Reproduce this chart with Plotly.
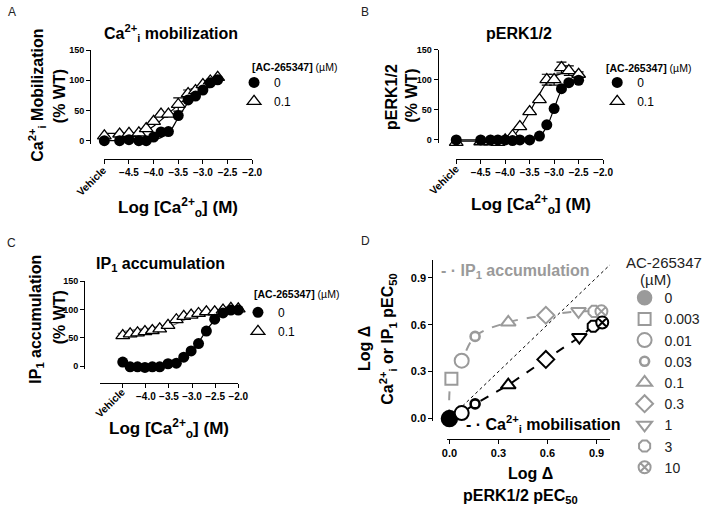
import plotly.graph_objects as go

W, H = 709, 516
FONT = "Liberation Sans"
GRAY = "#9a9a9a"


def fx(p):
    return p / W


def fy(p):
    return 1 - p / H


# ---------------- Data ----------------
# Panel A: Ca2+i mobilization (% WT) vs Log [Ca2+o] (M); vehicle plotted at -5.0
a_log_ca = [-5.0, -4.69, -4.5, -4.3, -4.15, -4.0, -3.85, -3.7, -3.5, -3.3, -3.15, -3.0, -2.85, -2.7]
a_ctrl = [0, 0, 1.5, 0, 0, 6, 14.5, 15, 41.5, 67.5, 74, 84, 96, 101]
a_ac = [8, 11, 12, 13, 20, 32, 44, 44, 60, 78, 83, 93, 99, 105]
a_ac_err = [None, None, None, None, None, None, None, None, 11, 6, 3, None, None, None]
a_ctrl_fit = [0, 0, 0, 0, 0.5, 2, 5, 12, 38, 63, 76, 86, 93, 97]
a_ac_fit = [12, 12, 12.5, 13.5, 17, 24, 34, 45, 59, 73, 82, 90, 96, 100]

# Panel B: pERK1/2 (% WT)
b_log_ca = [-5.0, -4.5, -4.3, -4.15, -4.0, -3.85, -3.7, -3.5, -3.3, -3.15, -3.0, -2.85, -2.7, -2.5]
b_ctrl = [0, 0, 0, 0, 0, -1, 0, 0, 6.5, 25, 52, 85, 95, 99]
b_ac = [-4, -3, -3, -4, 0, 7, 22, 47, 67, 100, 100, 120, 115, 109]
b_ac_err = [None, None, None, None, None, None, None, None, None, 9, 9, 9, 8, 4]
b_ctrl_fit = [0, 0, 0, 0, 0, 0, 0.3, 1, 6, 22, 52, 82, 94, 99]
b_ac_fit = [-2, -2, -2, -2, -0.5, 5, 20, 46, 76, 95, 105, 110, 112, 112]

# Panel C: IP1 accumulation (% WT); vehicle plotted at -4.5
c_log_ca = [-4.5, -4.34, -4.18, -4.02, -3.86, -3.7, -3.52, -3.34, -3.18, -3.02, -2.86, -2.69, -2.51, -2.33, -2.16, -2.0]
c_ctrl = [7.5, -1, -1, -2, -1, -1, 4.5, 5.5, 16, 27, 40, 62, 83, 94, 99, 99]
c_ac = [54, 57, 59, 61, 63, 66, 72, 82, 88, 90, 93, 96, 96, 99, 102, 101]
c_ac_err = [4, 5, 5, 5, 4, 3, None, None, None, None, None, None, None, None, None, None]
c_ctrl_fit = [0, 0, 0, 0, 0, 0.5, 1.5, 5, 12, 25, 42, 63, 81, 92, 97, 99]
c_ac_fit = [57, 58, 59, 60, 62, 65, 69, 75, 81, 86, 90, 93, 95, 97, 98, 99]

# Panel D: Log delta pEC50 (pERK1/2 on x; IP1 or Ca2+i on y) per [AC-265347] (uM)
ip1_conc = ["0", "0.003", "0.01", "0.03", "0.1", "0.3", "1", "3", "10"]
ip1_dx = [0.0, 0.012, 0.075, 0.157, 0.36, 0.59, 0.79, 0.885, 0.93]
ip1_dy = [0.0, 0.255, 0.37, 0.525, 0.615, 0.66, 0.685, 0.685, 0.685]
ca_conc = ["0", "0.01", "0.03", "0.1", "0.3", "1", "3", "10"]
ca_dx = [0.0, 0.075, 0.157, 0.36, 0.59, 0.795, 0.88, 0.935]
ca_dy = [0.0, 0.035, 0.094, 0.214, 0.378, 0.52, 0.59, 0.614]
identity_line = [0, 1]

ac_labels = ["0", "0.1"]
pct_ticks = [0, 50, 100, 150]

# ---------------- Styles ----------------
symbols = {
    "0": ("circle", 14, 1.5),
    "0.003": ("square", 12, 2),
    "0.01": ("circle", 14, 2),
    "0.03": ("circle", 9, 2.6),
    "0.1": ("triangle-up", 13, 2),
    "0.3": ("diamond", 13, 2),
    "1": ("triangle-down", 13, 2),
    "3": ("octagon", 12, 2),
    "10": ("circle-x", 12, 2),
}

fig = go.Figure()


def add_dr_panel(n, xs, ctrl, ac, ac_err, ctrl_fit, ac_fit, legend, ac_fit_color="black"):
    xa = "x" if n == 1 else f"x{n}"
    ya = "y" if n == 1 else f"y{n}"
    fig.add_trace(go.Scatter(x=xs, y=ctrl_fit, mode="lines", line=dict(color="black", width=1.2, shape="spline"),
                             xaxis=xa, yaxis=ya, showlegend=False, hoverinfo="skip"))
    fig.add_trace(go.Scatter(x=xs, y=ac_fit, mode="lines", line=dict(color=ac_fit_color, width=1.2, shape="spline"),
                             xaxis=xa, yaxis=ya, showlegend=False, hoverinfo="skip"))
    fig.add_trace(go.Scatter(x=xs, y=ac, mode="markers", name=ac_labels[1],
                             marker=dict(symbol="triangle-up", size=12, color="white",
                                         line=dict(color="black", width=1.3)),
                             error_y=dict(type="data", array=ac_err, visible=True, color=ac_fit_color,
                                          thickness=1.2, width=5),
                             xaxis=xa, yaxis=ya, legend=legend, cliponaxis=False))
    fig.add_trace(go.Scatter(x=xs, y=ctrl, mode="markers", name=ac_labels[0],
                             marker=dict(symbol="circle", size=11, color="black"),
                             xaxis=xa, yaxis=ya, legend=legend, cliponaxis=False, legendrank=1))


add_dr_panel(1, a_log_ca, a_ctrl, a_ac, a_ac_err, a_ctrl_fit, a_ac_fit, "legend")
add_dr_panel(2, b_log_ca, b_ctrl, b_ac, b_ac_err, b_ctrl_fit, b_ac_fit, "legend2")
add_dr_panel(3, c_log_ca, c_ctrl, c_ac, c_ac_err, c_ctrl_fit, c_ac_fit, "legend3", ac_fit_color="#6e6e6e")

# Panel D
fig.add_trace(go.Scatter(x=ip1_dx, y=ip1_dy, mode="lines", line=dict(color=GRAY, width=2, dash="dash", shape="spline"),
                         xaxis="x4", yaxis="y4", showlegend=False, hoverinfo="skip"))
fig.add_trace(go.Scatter(x=ca_dx, y=ca_dy, mode="lines", line=dict(color="black", width=2, dash="dash"),
                         xaxis="x4", yaxis="y4", showlegend=False, hoverinfo="skip"))
for c, xv, yv in zip(ip1_conc, ip1_dx, ip1_dy):
    sym, size, lw = symbols[c]
    fill = GRAY if c == "0" else "white"
    fig.add_trace(go.Scatter(x=[xv], y=[yv], mode="markers", name=c,
                             marker=dict(symbol=sym, size=size, color=fill, line=dict(color=GRAY, width=lw)),
                             xaxis="x4", yaxis="y4", legend="legend4", cliponaxis=False))
for c, xv, yv in zip(ca_conc, ca_dx, ca_dy):
    sym, size, lw = symbols[c]
    fill = "black" if c == "0" else "white"
    fig.add_trace(go.Scatter(x=[xv], y=[yv], mode="markers", name=c,
                             marker=dict(symbol=sym, size=size + (2 if c == "0" else 0), color=fill,
                                         line=dict(color="black", width=lw)),
                             xaxis="x4", yaxis="y4", showlegend=False, cliponaxis=False))

fig.add_shape(type="line", xref="x4", yref="y4", x0=identity_line[0], y0=identity_line[0],
              x1=identity_line[1], y1=identity_line[1], line=dict(color="black", width=1, dash="dot"),
              layer="below")

# ---------------- Axes ----------------
tickfont = dict(family=FONT, size=10, color="black", weight="bold")
ytickfont = dict(family=FONT, size=9, color="black", weight="bold")
common = dict(showline=True, linecolor="black", linewidth=1.2, ticks="outside", ticklen=4, tickwidth=1.2,
              tickcolor="black", showgrid=False, zeroline=False, tickfont=tickfont, fixedrange=True)

log_vals_ab = [-5, -4.5, -4, -3.5, -3, -2.5, -2]
log_text_ab = ["", "−4.5", "−4.0", "−3.5", "−3.0", "−2.5", "−2.0"]
log_vals_c = [-4.5, -4, -3.5, -3, -2.5, -2]
log_text_c = ["", "−4.0", "−3.5", "−3.0", "−2.5", "−2.0"]

layout_axes = {
    "xaxis": dict(common, domain=[fx(101.5), fx(252.5)], range=[-5, -2], anchor="free", position=fy(157),
                  tickvals=log_vals_ab, ticktext=log_text_ab),
    "yaxis": dict(common, domain=[fy(141.1), fy(46)], range=[-5, 150], anchor="free", position=fx(87),
                  tickvals=pct_ticks, tickfont=ytickfont),
    "xaxis2": dict(common, domain=[fx(461), fx(611)], range=[-5, -2], anchor="free", position=fy(157),
                   tickvals=log_vals_ab, ticktext=log_text_ab),
    "yaxis2": dict(common, domain=[fy(140.4), fy(45.3)], range=[-5, 150], anchor="free", position=fx(442),
                   tickvals=pct_ticks, tickfont=ytickfont),
    "xaxis3": dict(common, domain=[fx(96.7), fx(238.3)], range=[-5, -2], anchor="free", position=fy(385),
                   tickvals=log_vals_c, ticktext=log_text_c),
    "yaxis3": dict(common, domain=[fy(370.6), fy(281)], range=[-5, 150], anchor="free", position=fx(81),
                   tickvals=pct_ticks, tickfont=ytickfont),
    "xaxis4": dict(common, domain=[fx(451.7), fx(618)], range=[-0.014, 0.982], anchor="free", position=fy(441.7),
                   tickvals=[0, 0.3, 0.6, 0.9], ticktext=["0.0", "0.3", "0.6", "0.9"],
                   tickfont=dict(tickfont, size=11)),
    "yaxis4": dict(common, domain=[fy(423), fy(260)], range=[-0.013, 1.01], anchor="free", position=fx(436.7),
                   tickvals=[0, 0.3, 0.6, 0.9], ticktext=["0.0", "0.3", "0.6", "0.9"],
                   tickfont=dict(tickfont, size=11)),
}

# ---------------- Annotations ----------------
anns = []


def ann(text, x, y, size=16, bold=True, color="black", angle=0, xanchor="center", yanchor="middle"):
    anns.append(dict(text=text, x=fx(x), y=fy(y), xref="paper", yref="paper", showarrow=False,
                     textangle=angle, xanchor=xanchor, yanchor=yanchor,
                     font=dict(family=FONT, size=size, color=color, weight="bold" if bold else "normal")))


# panel letters
ann("A", 7, 7, size=12, bold=False, color="#222")
ann("B", 368, 7, size=12, bold=False, color="#222")
ann("C", 7, 242, size=12, bold=False, color="#222")
ann("D", 368, 240, size=12, bold=False, color="#222")

# panel titles
ann("Ca<sup>2+</sup><sub>i</sub> mobilization", 170, 28, size=16)
ann("pERK1/2", 525, 29, size=16)
ann("IP<sub>1</sub> accumulation", 159, 264, size=16)

# y titles
ann("Ca<sup>2+</sup><sub>i</sub> Mobilization", 33, 92, size=16, angle=-90)
ann("(% WT)", 56, 93, size=16, angle=-90)
ann("pERK1/2", 395, 94, size=16, angle=-90)
ann("(% WT)", 415, 92, size=16, angle=-90)
ann("IP<sub>1</sub> accumulation", 32, 320, size=16, angle=-90)
ann("(% WT)", 56, 318, size=16, angle=-90)
ann("Log Δ", 368, 350, size=16, angle=-90)
ann("Ca<sup>2+</sup><sub>i</sub> or IP<sub>1</sub> pEC<sub>50</sub>", 391, 340, size=16, angle=-90)

# x titles
ann("Log [Ca<sup>2+</sup><sub>o</sub>] (M)", 177, 206, size=17)
ann("Log [Ca<sup>2+</sup><sub>o</sub>] (M)", 537, 203, size=17)
ann("Log [Ca<sup>2+</sup><sub>o</sub>] (M)", 168, 431, size=17)
ann("Log Δ", 537, 477, size=16)
ann("pERK1/2 pEC<sub>50</sub>", 527, 500, size=16)

# vehicle labels
ann("Vehicle", 88, 179, size=10.5, angle=-45)
ann("Vehicle", 448, 178, size=10.5, angle=-45)
ann("Vehicle", 107, 405, size=10.5, angle=-45)

# legend titles
leg_title = "<b>[AC-265347]</b> (µM)"
ann(leg_title, 250, 63, size=10.5, bold=False, xanchor="left")
ann(leg_title, 612, 64, size=10.5, bold=False, xanchor="left")
ann(leg_title, 252, 294, size=10.5, bold=False, xanchor="left")
ann("AC-265347", 632, 262, size=15, bold=False, xanchor="left", color="#222")
ann("(µM)", 665, 279, size=15, bold=False, color="#222")

# panel D line labels
ann("- · IP<sub>1</sub> accumulation", 443, 271, size=16, color=GRAY, xanchor="left")
ann("- · Ca<sup>2+</sup><sub>i</sub> mobilisation", 469, 426, size=16, color="black", xanchor="left")

legend_common = dict(xanchor="left", yanchor="top", bgcolor="rgba(0,0,0,0)", borderwidth=0,
                     itemwidth=30, tracegroupgap=0, traceorder="normal",
                     font=dict(family=FONT, size=12, color="black"))

fig.update_layout(
    width=W, height=H, margin=dict(l=0, r=0, t=0, b=0),
    paper_bgcolor="white", plot_bgcolor="white",
    showlegend=True,
    legend=dict(legend_common, x=fx(234), y=fy(64)),
    legend2=dict(legend_common, x=fx(605), y=fy(64)),
    legend3=dict(legend_common, x=fx(238), y=fy(298)),
    legend4=dict(legend_common, x=fx(633), y=fy(282), font=dict(family=FONT, size=14, color="#222")),
    annotations=anns,
    **layout_axes,
)

fig.write_html("out.html", config={"displayModeBar": False},
               post_script="document.body.style.margin='0';document.body.style.padding='0';")
